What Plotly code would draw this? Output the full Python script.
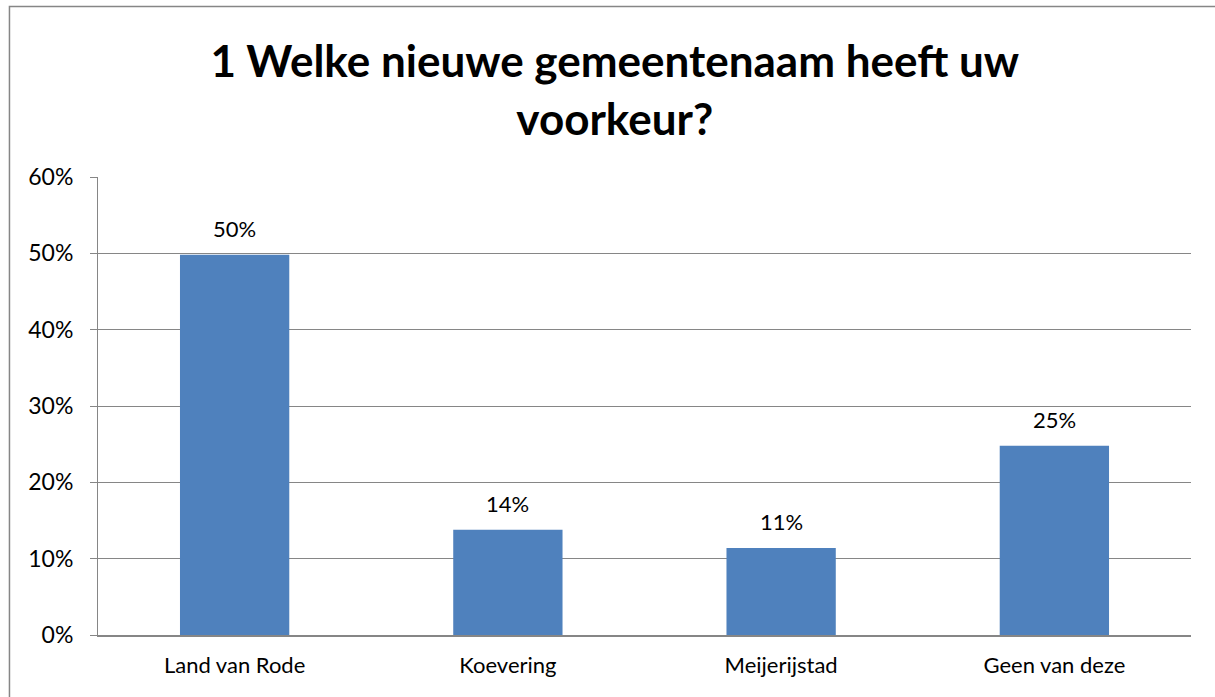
import plotly.graph_objects as go

categories = ["Land van Rode", "Koevering", "Meijerijstad", "Geen van deze"]
values = [0.498, 0.138, 0.114, 0.248]
title_text = "1 Welke nieuwe gemeentenaam heeft uw<br>voorkeur?"

FONT = "Lato"

fig = go.Figure(go.Bar(
    x=categories, y=values,
    marker=dict(color="#4F81BD", line=dict(width=0)),
    width=0.4,
    hoverinfo="x+y",
))

for c, v in zip(categories, values):
    fig.add_annotation(x=c, y=v, text=f"{v:.0%}", showarrow=False,
                       yanchor="middle", yshift=26,
                       font=dict(family=FONT, size=22, color="#000000"))

fig.update_layout(
    width=1215, height=697,
    margin=dict(l=98, r=24, t=177, b=62),
    paper_bgcolor="white", plot_bgcolor="white",
    showlegend=False,
    title=dict(text=title_text, x=0.506, xanchor="center", y=0.889, yanchor="middle",
               font=dict(family=FONT, size=44, color="#000000", weight="bold")),
    font=dict(family=FONT, size=22, color="#000000"),
)
fig.update_yaxes(range=[0, 0.6], dtick=0.1, tickformat=".0%",
                 showgrid=True, gridcolor="#868686", gridwidth=1,
                 showline=True, linecolor="#868686", linewidth=1,
                 ticks="outside", ticklen=7, tickcolor="#868686",
                 zeroline=False, tickfont=dict(family=FONT, size=23), ticklabelstandoff=12)
fig.update_xaxes(showline=True, linecolor="#868686", linewidth=2,
                 ticks="", tickfont=dict(family=FONT, size=22), ticklabelstandoff=10)

fig.add_shape(type="rect", xref="paper", yref="paper",
              x0=-0.081, x1=1.06, y0=-0.2, y1=1.372,
              line=dict(color="#868686", width=1.5), fillcolor="rgba(0,0,0,0)", layer="below")

fig.write_html("out.html", config={"displayModeBar": False},
               post_script="document.body.style.margin='0px';")
